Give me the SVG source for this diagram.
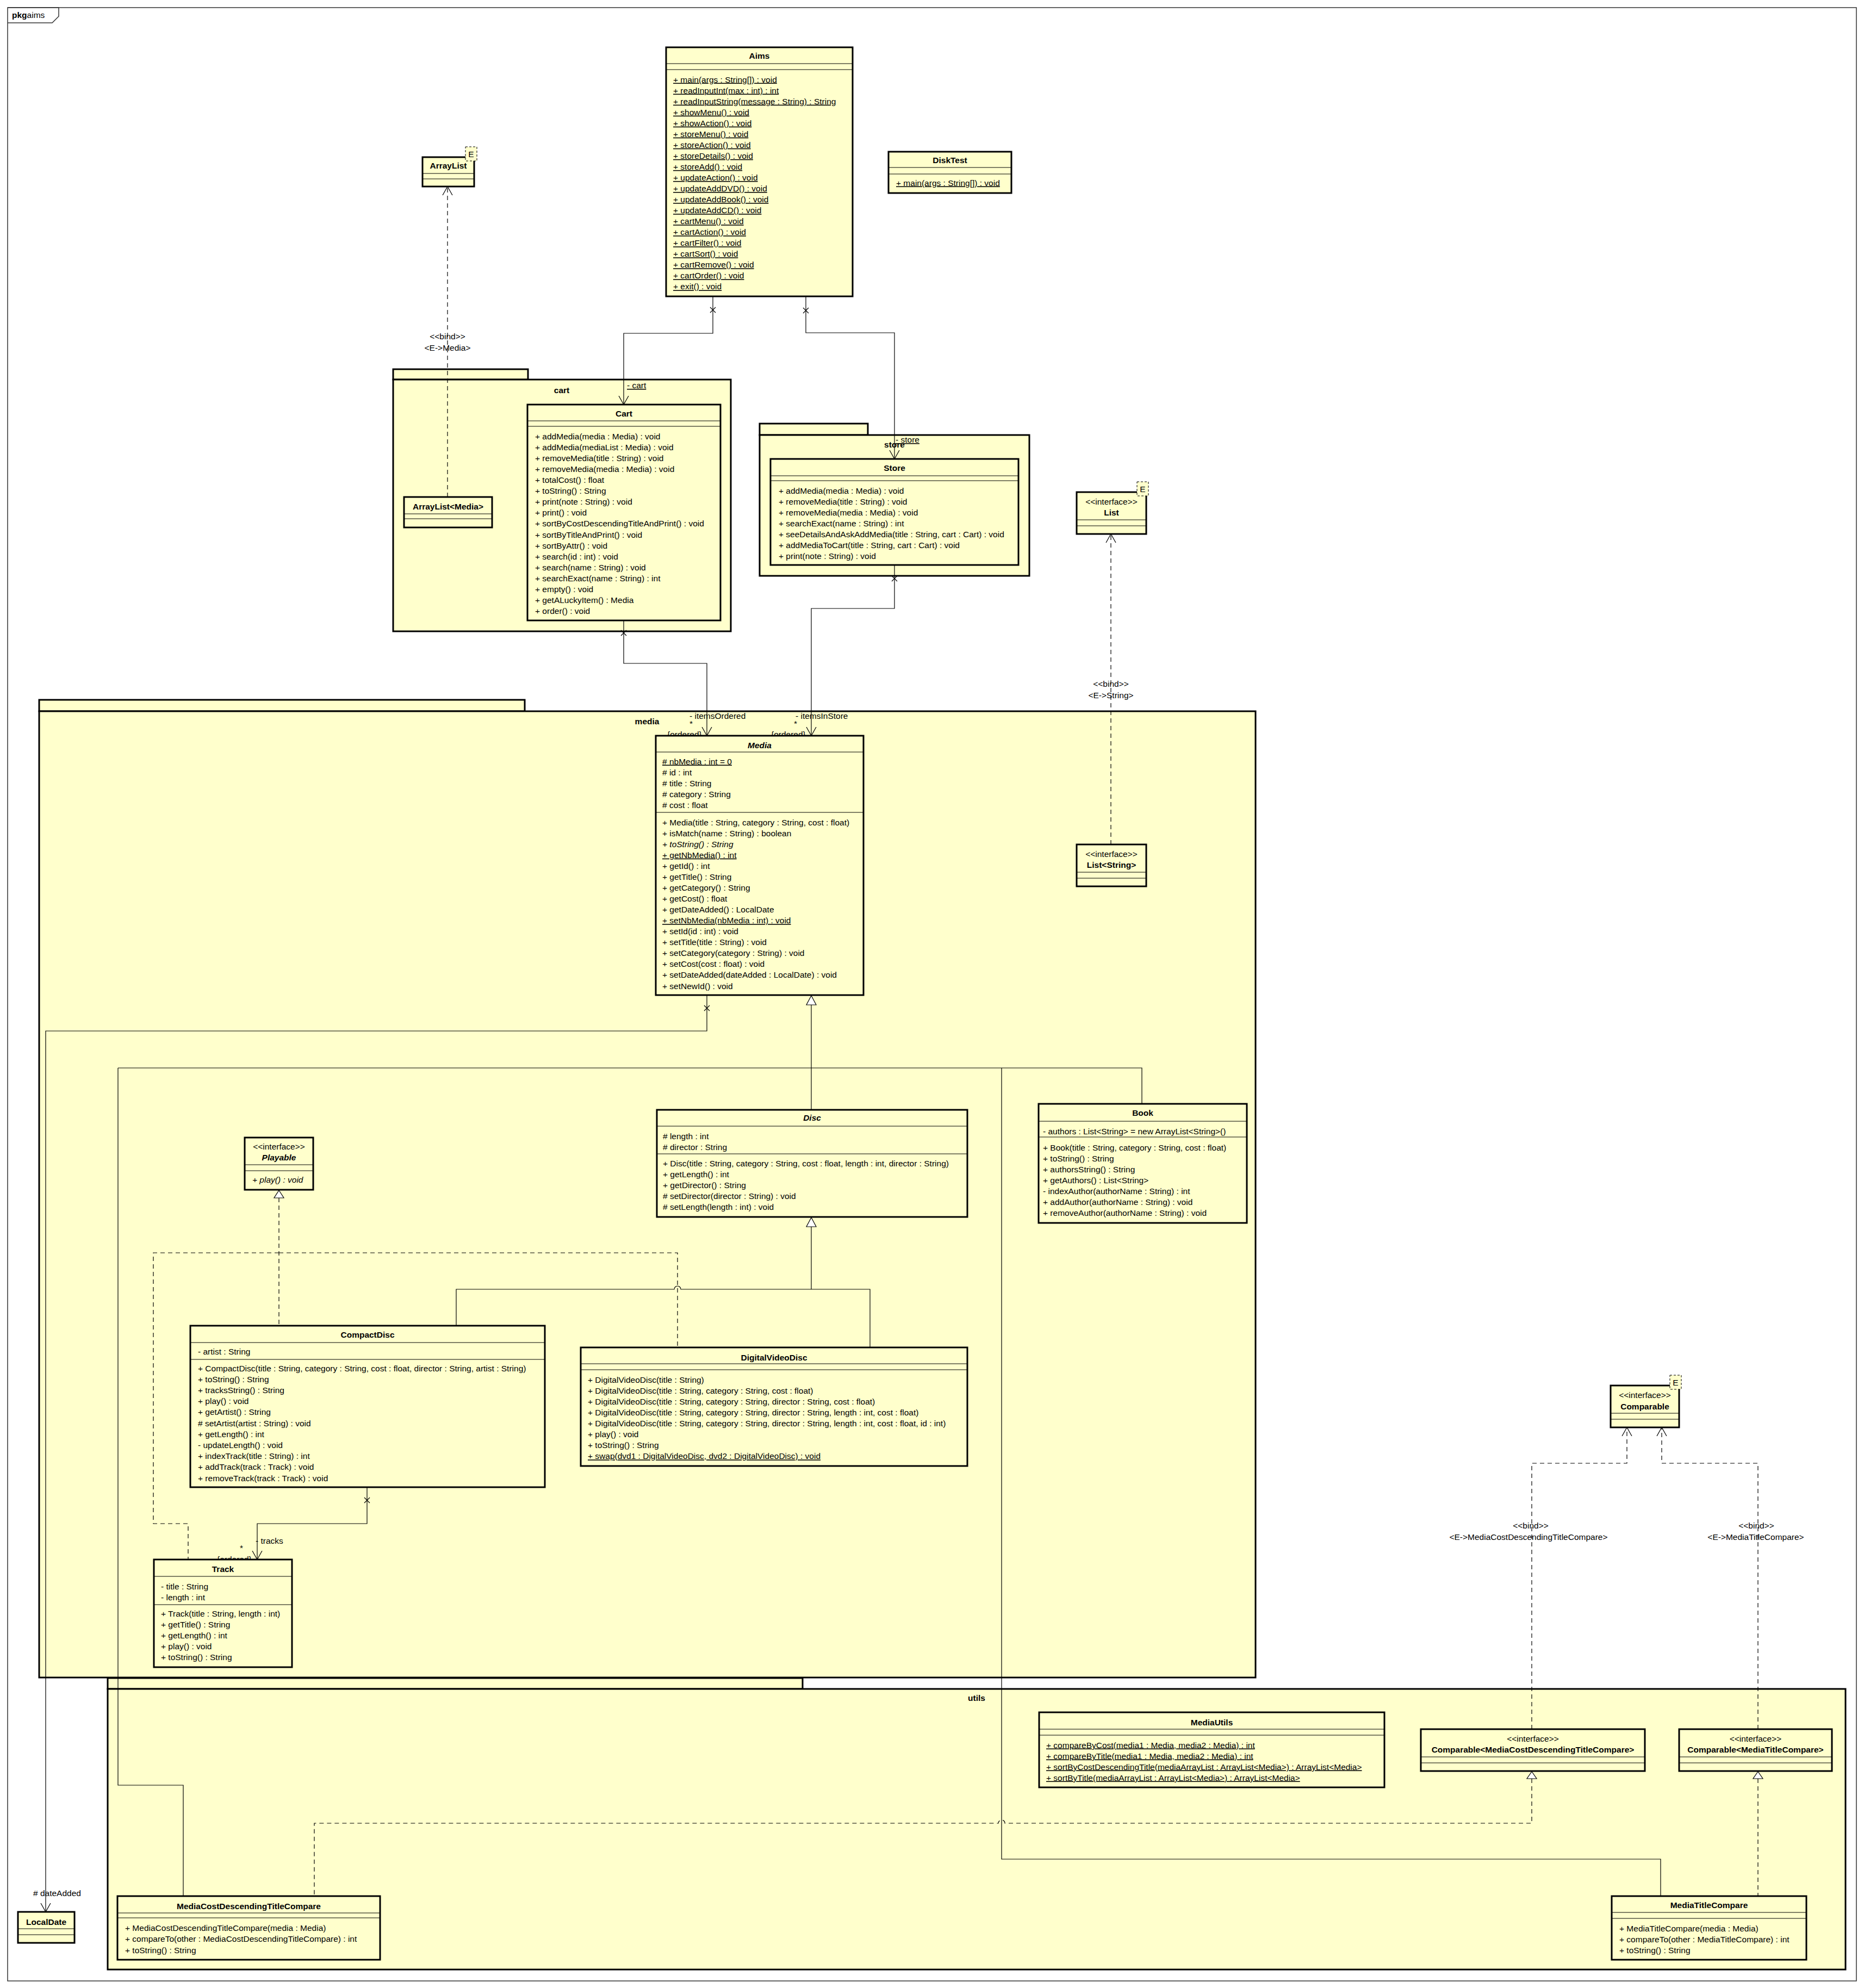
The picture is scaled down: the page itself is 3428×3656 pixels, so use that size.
<svg xmlns="http://www.w3.org/2000/svg" width="3428" height="3656" viewBox="0 0 3428 3656">
<style>
text{font-family:"Liberation Sans",Arial,sans-serif;font-size:15.5px;fill:#000}
.b{font-weight:bold}
.i{font-style:italic}
.u{text-decoration:underline}
.m{text-anchor:middle}
.box{fill:#FFFFCC;stroke:#000;stroke-width:3}
.pkg{fill:#FFFFCC;stroke:#000;stroke-width:3}
.sep{fill:none;stroke:#000;stroke-width:1}
.ln{fill:none;stroke:#000;stroke-width:1.2}
.dash{fill:none;stroke:#000;stroke-width:1.2;stroke-dasharray:8 6}
.tpl{fill:#FFFFCC;stroke:#000;stroke-width:1;stroke-dasharray:4 3}
.tri{fill:#fff;stroke:#000;stroke-width:1.2}
</style>
<defs>
<marker id="open" viewBox="0 0 16 20" refX="16" refY="10" markerWidth="16" markerHeight="20" orient="auto" markerUnits="userSpaceOnUse">
<path d="M0,1 L16,10 L0,19" fill="none" stroke="#000" stroke-width="1.2" stroke-dasharray="none"/>
</marker>
</defs>
<rect width="3428" height="3656" fill="#fff"/>

<!-- frame -->
<g id="frame">
<rect x="14" y="14" width="3400" height="3629" fill="none" stroke="#333" stroke-width="1.5"/>
<path d="M14,14 H108 V30 L96,42 H14" fill="none" stroke="#333" stroke-width="1.5"/>
<text x="22" y="33"><tspan class="b">pkg</tspan>aims</text>
</g>

<!-- packages -->
<g id="pkg-media">
<rect class="pkg" x="72" y="1287" width="893" height="21"/>
<rect class="pkg" x="72" y="1308" width="2237" height="1777"/>
<text class="b m" x="1190" y="1331.5">media</text>
</g>
<g id="pkg-utils">
<rect class="pkg" x="198" y="3086" width="1278" height="20"/>
<rect class="pkg" x="198" y="3106" width="3196" height="516"/>
<text class="b m" x="1796" y="3127.5">utils</text>
</g>
<g id="pkg-cart">
<rect class="pkg" x="723" y="679" width="248" height="19"/>
<rect class="pkg" x="723" y="698" width="621" height="463"/>
<text class="b m" x="1033" y="722.5">cart</text>
</g>
<g id="pkg-store">
<rect class="pkg" x="1397" y="779" width="199" height="21"/>
<rect class="pkg" x="1397" y="800" width="496" height="259"/>
<text class="b m" x="1645" y="822.5">store</text>
</g>

<!-- connectors -->
<g id="connectors">
<!-- Aims -> Cart -->
<path class="ln" d="M1311,545 V613 H1147 V744" marker-end="url(#open)"/>
<path class="ln" d="M1306,565 L1316,575 M1316,565 L1306,575"/>
<text class="u" x="1153" y="714">- cart</text>
<!-- Aims -> Store -->
<path class="ln" d="M1482,545 V612 H1645 V844" marker-end="url(#open)"/>
<path class="ln" d="M1477,566 L1487,576 M1487,566 L1477,576"/>
<text class="u" x="1647" y="814">- store</text>
<!-- Cart -> Media -->
<path class="ln" d="M1147,1141 V1220 H1300 V1353" marker-end="url(#open)"/>
<path class="ln" d="M1142,1159 L1152,1169 M1152,1159 L1142,1169"/>
<text x="1268" y="1322">- itemsOrdered</text>
<text x="1268" y="1336">*</text>
<text x="1227" y="1356">{ordered}</text>
<!-- Store -> Media -->
<path class="ln" d="M1645,1039 V1119 H1492 V1353" marker-end="url(#open)"/>
<path class="ln" d="M1640,1059 L1650,1069 M1650,1059 L1640,1069"/>
<text x="1463" y="1322">- itemsInStore</text>
<text x="1460" y="1336">*</text>
<text x="1418" y="1356">{ordered}</text>
<!-- ArrayList<Media> binds ArrayList -->
<path class="dash" d="M823,914 V343" marker-end="url(#open)"/>
<text class="m" x="823" y="624">&lt;&lt;bind&gt;&gt;</text>
<text class="m" x="823" y="645">&lt;E-&gt;Media&gt;</text>
<!-- List<String> binds List -->
<path class="dash" d="M2043,1553 V982" marker-end="url(#open)"/>
<text class="m" x="2043" y="1263">&lt;&lt;bind&gt;&gt;</text>
<text class="m" x="2043" y="1284">&lt;E-&gt;String&gt;</text>
<!-- Media -> LocalDate -->
<path class="ln" d="M1300,1830 V1896 H84 V3516" marker-end="url(#open)"/>
<path class="ln" d="M1295,1849 L1305,1859 M1305,1849 L1295,1859"/>
<text x="61" y="3487"># dateAdded</text>
<!-- generalization to Media -->
<polygon class="tri" points="1492,1831 1483,1848 1501,1848"/>
<path class="ln" d="M1492,1848 V2041"/>
<path class="ln" d="M217,1964 H2100 V2030"/>
<path class="ln" d="M217,1964 V3283 H337 V3487"/>
<path class="ln" d="M1842,1964 V3419 H3054 V3487"/>
<!-- generalization to Disc -->
<polygon class="tri" points="1492,2239 1483,2256 1501,2256"/>
<path class="ln" d="M1492,2256 V2371"/>
<path class="ln" d="M839,2438 V2371 H1240 A6,6 0 0 1 1252,2371 H1600 V2478"/>
<!-- realization of Playable -->
<polygon class="tri" points="513,2189 504,2203 522,2203"/>
<path class="dash" d="M513,2203 V2438"/>
<path class="dash" d="M513,2304 H1246 V2478"/>
<path class="dash" d="M513,2304 H282 V2802 H346 V2868"/>
<!-- CompactDisc -> Track -->
<path class="ln" d="M675,2735 V2802 H473 V2868" marker-end="url(#open)"/>
<path class="ln" d="M670,2754 L680,2764 M680,2754 L670,2764"/>
<text x="470" y="2839">- tracks</text>
<text x="441" y="2852">*</text>
<text x="399" y="2873">{ordered}</text>
<!-- bindings of Comparable -->
<path class="dash" d="M2817,3180 V2691 H2992 V2625" marker-end="url(#open)"/>
<path class="dash" d="M3233,3180 V2691 H3056 V2625" marker-end="url(#open)"/>
<text class="m" x="2815" y="2811">&lt;&lt;bind&gt;&gt;</text>
<text class="m" x="2811" y="2832">&lt;E-&gt;MediaCostDescendingTitleCompare&gt;</text>
<text class="m" x="3230" y="2811">&lt;&lt;bind&gt;&gt;</text>
<text class="m" x="3229" y="2832">&lt;E-&gt;MediaTitleCompare&gt;</text>
<!-- realizations in utils -->
<polygon class="tri" points="2817,3258 2808,3271 2826,3271"/>
<path class="dash" d="M2817,3271 V3353 H1848 A6,6 0 0 0 1836,3353 H578 V3487"/>
<polygon class="tri" points="3233,3258 3224,3271 3242,3271"/>
<path class="dash" d="M3233,3271 V3487"/>
</g>

<!-- classes -->
<g id="ArrayList">
<rect class="box" x="777" y="289" width="95" height="54"/>
<text class="b m" x="824.5" y="309.5">ArrayList</text>
<path class="sep" d="M777,319H872M777,329H872"/>
<rect class="tpl" x="856" y="270" width="21" height="26"/>
<text class="m" x="866.5" y="289">E</text>
</g>

<g id="Aims">
<rect class="box" x="1225" y="87" width="343" height="458"/>
<text class="b m" x="1396.5" y="108">Aims</text>
<path class="sep" d="M1225,117H1568M1225,128H1568"/>
<text class="u" x="1238" y="151.5"><tspan x="1238">+ main(args : String[]) : void</tspan><tspan x="1238" dy="20.05">+ readInputInt(max : int) : int</tspan><tspan x="1238" dy="20.05">+ readInputString(message : String) : String</tspan><tspan x="1238" dy="20.05">+ showMenu() : void</tspan><tspan x="1238" dy="20.05">+ showAction() : void</tspan><tspan x="1238" dy="20.05">+ storeMenu() : void</tspan><tspan x="1238" dy="20.05">+ storeAction() : void</tspan><tspan x="1238" dy="20.05">+ storeDetails() : void</tspan><tspan x="1238" dy="20.05">+ storeAdd() : void</tspan><tspan x="1238" dy="20.05">+ updateAction() : void</tspan><tspan x="1238" dy="20.05">+ updateAddDVD() : void</tspan><tspan x="1238" dy="20.05">+ updateAddBook() : void</tspan><tspan x="1238" dy="20.05">+ updateAddCD() : void</tspan><tspan x="1238" dy="20.05">+ cartMenu() : void</tspan><tspan x="1238" dy="20.05">+ cartAction() : void</tspan><tspan x="1238" dy="20.05">+ cartFilter() : void</tspan><tspan x="1238" dy="20.05">+ cartSort() : void</tspan><tspan x="1238" dy="20.05">+ cartRemove() : void</tspan><tspan x="1238" dy="20.05">+ cartOrder() : void</tspan><tspan x="1238" dy="20.05">+ exit() : void</tspan></text>
</g>

<g id="DiskTest">
<rect class="box" x="1634" y="279" width="226" height="76"/>
<text class="b m" x="1747" y="300">DiskTest</text>
<path class="sep" d="M1634,308H1860M1634,320H1860"/>
<text class="u" x="1648" y="341.5">+ main(args : String[]) : void</text>
</g>

<g id="Cart">
<rect class="box" x="970" y="744" width="355" height="397"/>
<text class="b m" x="1147.5" y="765.5">Cart</text>
<path class="sep" d="M970,774H1325M970,784H1325"/>
<text x="984" y="807.5"><tspan x="984">+ addMedia(media : Media) : void</tspan><tspan x="984" dy="20.12">+ addMedia(mediaList : Media) : void</tspan><tspan x="984" dy="20.12">+ removeMedia(title : String) : void</tspan><tspan x="984" dy="20.12">+ removeMedia(media : Media) : void</tspan><tspan x="984" dy="20.12">+ totalCost() : float</tspan><tspan x="984" dy="20.12">+ toString() : String</tspan><tspan x="984" dy="20.12">+ print(note : String) : void</tspan><tspan x="984" dy="20.12">+ print() : void</tspan><tspan x="984" dy="20.12">+ sortByCostDescendingTitleAndPrint() : void</tspan><tspan x="984" dy="20.12">+ sortByTitleAndPrint() : void</tspan><tspan x="984" dy="20.12">+ sortByAttr() : void</tspan><tspan x="984" dy="20.12">+ search(id : int) : void</tspan><tspan x="984" dy="20.12">+ search(name : String) : void</tspan><tspan x="984" dy="20.12">+ searchExact(name : String) : int</tspan><tspan x="984" dy="20.12">+ empty() : void</tspan><tspan x="984" dy="20.12">+ getALuckyItem() : Media</tspan><tspan x="984" dy="20.12">+ order() : void</tspan></text>
</g>

<g id="ArrayList-Media">
<rect class="box" x="743" y="914" width="162" height="56"/>
<text class="b m" x="824" y="936.5">ArrayList&lt;Media&gt;</text>
<path class="sep" d="M743,945H905M743,954H905"/>
</g>

<g id="Store">
<rect class="box" x="1417" y="844" width="456" height="195"/>
<text class="b m" x="1645" y="865.5">Store</text>
<path class="sep" d="M1417,875H1873M1417,884H1873"/>
<text x="1432" y="907.5"><tspan x="1432">+ addMedia(media : Media) : void</tspan><tspan x="1432" dy="20">+ removeMedia(title : String) : void</tspan><tspan x="1432" dy="20">+ removeMedia(media : Media) : void</tspan><tspan x="1432" dy="20">+ searchExact(name : String) : int</tspan><tspan x="1432" dy="20">+ seeDetailsAndAskAddMedia(title : String, cart : Cart) : void</tspan><tspan x="1432" dy="20">+ addMediaToCart(title : String, cart : Cart) : void</tspan><tspan x="1432" dy="20">+ print(note : String) : void</tspan></text>
</g>

<g id="List">
<rect class="box" x="1980" y="905" width="128" height="77"/>
<text class="m" x="2044" y="928">&lt;&lt;interface&gt;&gt;</text>
<text class="b m" x="2044" y="947.5">List</text>
<path class="sep" d="M1980,956H2108M1980,967H2108"/>
<rect class="tpl" x="2091" y="886" width="21" height="26"/>
<text class="m" x="2101.5" y="905">E</text>
</g>

<g id="List-String">
<rect class="box" x="1980" y="1553" width="128" height="77"/>
<text class="m" x="2044" y="1576">&lt;&lt;interface&gt;&gt;</text>
<text class="b m" x="2044" y="1595.5">List&lt;String&gt;</text>
<path class="sep" d="M1980,1604H2108M1980,1615H2108"/>
</g>

<g id="Media">
<rect class="box" x="1206" y="1353" width="382" height="477"/>
<text class="b i m" x="1397" y="1375.5">Media</text>
<path class="sep" d="M1206,1383H1588M1206,1494H1588"/>
<text x="1218" y="1405.5"><tspan x="1218" class="u"># nbMedia : int = 0</tspan><tspan x="1218" dy="20.1"># id : int</tspan><tspan x="1218" dy="20.1"># title : String</tspan><tspan x="1218" dy="20.1"># category : String</tspan><tspan x="1218" dy="20.1"># cost : float</tspan></text>
<text x="1218" y="1517.5"><tspan x="1218">+ Media(title : String, category : String, cost : float)</tspan><tspan x="1218" dy="20.07">+ isMatch(name : String) : boolean</tspan><tspan x="1218" dy="20.07" class="i">+ toString() : String</tspan><tspan x="1218" dy="20.07" class="u">+ getNbMedia() : int</tspan><tspan x="1218" dy="20.07">+ getId() : int</tspan><tspan x="1218" dy="20.07">+ getTitle() : String</tspan><tspan x="1218" dy="20.07">+ getCategory() : String</tspan><tspan x="1218" dy="20.07">+ getCost() : float</tspan><tspan x="1218" dy="20.07">+ getDateAdded() : LocalDate</tspan><tspan x="1218" dy="20.07" class="u">+ setNbMedia(nbMedia : int) : void</tspan><tspan x="1218" dy="20.07">+ setId(id : int) : void</tspan><tspan x="1218" dy="20.07">+ setTitle(title : String) : void</tspan><tspan x="1218" dy="20.07">+ setCategory(category : String) : void</tspan><tspan x="1218" dy="20.07">+ setCost(cost : float) : void</tspan><tspan x="1218" dy="20.07">+ setDateAdded(dateAdded : LocalDate) : void</tspan><tspan x="1218" dy="20.07">+ setNewId() : void</tspan></text>
</g>

<g id="Disc">
<rect class="box" x="1208" y="2041" width="571" height="197"/>
<text class="b i m" x="1493.5" y="2061">Disc</text>
<path class="sep" d="M1208,2071H1779M1208,2122H1779"/>
<text x="1219" y="2094.5"><tspan x="1219"># length : int</tspan><tspan x="1219" dy="20"># director : String</tspan></text>
<text x="1219" y="2144.5"><tspan x="1219">+ Disc(title : String, category : String, cost : float, length : int, director : String)</tspan><tspan x="1219" dy="20">+ getLength() : int</tspan><tspan x="1219" dy="20">+ getDirector() : String</tspan><tspan x="1219" dy="20"># setDirector(director : String) : void</tspan><tspan x="1219" dy="20"># setLength(length : int) : void</tspan></text>
</g>

<g id="Book">
<rect class="box" x="1910" y="2030" width="383" height="219"/>
<text class="b m" x="2101.5" y="2051.5">Book</text>
<path class="sep" d="M1910,2062H2293M1910,2091H2293"/>
<text x="1918" y="2085.5">- authors : List&lt;String&gt; = new ArrayList&lt;String&gt;()</text>
<text x="1918" y="2115.5"><tspan x="1918">+ Book(title : String, category : String, cost : float)</tspan><tspan x="1918" dy="20">+ toString() : String</tspan><tspan x="1918" dy="20">+ authorsString() : String</tspan><tspan x="1918" dy="20">+ getAuthors() : List&lt;String&gt;</tspan><tspan x="1918" dy="20">- indexAuthor(authorName : String) : int</tspan><tspan x="1918" dy="20">+ addAuthor(authorName : String) : void</tspan><tspan x="1918" dy="20">+ removeAuthor(authorName : String) : void</tspan></text>
</g>

<g id="Playable">
<rect class="box" x="450" y="2092" width="126" height="96"/>
<text class="m" x="513" y="2114">&lt;&lt;interface&gt;&gt;</text>
<text class="b i m" x="513" y="2133.5">Playable</text>
<path class="sep" d="M450,2142H576M450,2153H576"/>
<text class="i" x="464" y="2174.5">+ play() : void</text>
</g>

<g id="CompactDisc">
<rect class="box" x="350" y="2438" width="652" height="297"/>
<text class="b m" x="676" y="2459.5">CompactDisc</text>
<path class="sep" d="M350,2469H1002M350,2500H1002"/>
<text x="364" y="2490.5">- artist : String</text>
<text x="364" y="2521.5"><tspan x="364">+ CompactDisc(title : String, category : String, cost : float, director : String, artist : String)</tspan><tspan x="364" dy="20.2">+ toString() : String</tspan><tspan x="364" dy="20.2">+ tracksString() : String</tspan><tspan x="364" dy="20.2">+ play() : void</tspan><tspan x="364" dy="20.2">+ getArtist() : String</tspan><tspan x="364" dy="20.2"># setArtist(artist : String) : void</tspan><tspan x="364" dy="20.2">+ getLength() : int</tspan><tspan x="364" dy="20.2">- updateLength() : void</tspan><tspan x="364" dy="20.2">+ indexTrack(title : String) : int</tspan><tspan x="364" dy="20.2">+ addTrack(track : Track) : void</tspan><tspan x="364" dy="20.2">+ removeTrack(track : Track) : void</tspan></text>
</g>

<g id="DigitalVideoDisc">
<rect class="box" x="1068" y="2478" width="711" height="218"/>
<text class="b m" x="1423.5" y="2501.5">DigitalVideoDisc</text>
<path class="sep" d="M1068,2508H1779M1068,2519H1779"/>
<text x="1081" y="2542.5"><tspan x="1081">+ DigitalVideoDisc(title : String)</tspan><tspan x="1081" dy="20.1">+ DigitalVideoDisc(title : String, category : String, cost : float)</tspan><tspan x="1081" dy="20.1">+ DigitalVideoDisc(title : String, category : String, director : String, cost : float)</tspan><tspan x="1081" dy="20.1">+ DigitalVideoDisc(title : String, category : String, director : String, length : int, cost : float)</tspan><tspan x="1081" dy="20.1">+ DigitalVideoDisc(title : String, category : String, director : String, length : int, cost : float, id : int)</tspan><tspan x="1081" dy="20.1">+ play() : void</tspan><tspan x="1081" dy="20.1">+ toString() : String</tspan><tspan x="1081" dy="20.1" class="u">+ swap(dvd1 : DigitalVideoDisc, dvd2 : DigitalVideoDisc) : void</tspan></text>
</g>

<g id="Track">
<rect class="box" x="283" y="2868" width="254" height="198"/>
<text class="b m" x="410" y="2890.5">Track</text>
<path class="sep" d="M283,2899H537M283,2951H537"/>
<text x="296" y="2922.5"><tspan x="296">- title : String</tspan><tspan x="296" dy="20">- length : int</tspan></text>
<text x="296" y="2972.5"><tspan x="296">+ Track(title : String, length : int)</tspan><tspan x="296" dy="20">+ getTitle() : String</tspan><tspan x="296" dy="20">+ getLength() : int</tspan><tspan x="296" dy="20">+ play() : void</tspan><tspan x="296" dy="20">+ toString() : String</tspan></text>
</g>

<g id="Comparable">
<rect class="box" x="2962" y="2548" width="126" height="77"/>
<text class="m" x="3025" y="2571">&lt;&lt;interface&gt;&gt;</text>
<text class="b m" x="3025" y="2591.5">Comparable</text>
<path class="sep" d="M2962,2599H3088M2962,2610H3088"/>
<rect class="tpl" x="3071" y="2529" width="21" height="26"/>
<text class="m" x="3081.5" y="2548">E</text>
</g>

<g id="MediaUtils">
<rect class="box" x="1911" y="3149" width="635" height="138"/>
<text class="b m" x="2228.5" y="3172.5">MediaUtils</text>
<path class="sep" d="M1911,3180H2546M1911,3191H2546"/>
<text class="u" x="1924" y="3214.5"><tspan x="1924">+ compareByCost(media1 : Media, media2 : Media) : int</tspan><tspan x="1924" dy="20">+ compareByTitle(media1 : Media, media2 : Media) : int</tspan><tspan x="1924" dy="20">+ sortByCostDescendingTitle(mediaArrayList : ArrayList&lt;Media&gt;) : ArrayList&lt;Media&gt;</tspan><tspan x="1924" dy="20">+ sortByTitle(mediaArrayList : ArrayList&lt;Media&gt;) : ArrayList&lt;Media&gt;</tspan></text>
</g>

<g id="Comparable-MCDTC">
<rect class="box" x="2613" y="3180" width="412" height="77"/>
<text class="m" x="2819" y="3203">&lt;&lt;interface&gt;&gt;</text>
<text class="b m" x="2819" y="3222.5">Comparable&lt;MediaCostDescendingTitleCompare&gt;</text>
<path class="sep" d="M2613,3231H3025M2613,3242H3025"/>
</g>

<g id="Comparable-MTC">
<rect class="box" x="3088" y="3180" width="281" height="77"/>
<text class="m" x="3228.5" y="3203">&lt;&lt;interface&gt;&gt;</text>
<text class="b m" x="3228.5" y="3222.5">Comparable&lt;MediaTitleCompare&gt;</text>
<path class="sep" d="M3088,3231H3369M3088,3242H3369"/>
</g>

<g id="MediaCostDescendingTitleCompare">
<rect class="box" x="216" y="3487" width="483" height="117"/>
<text class="b m" x="457.5" y="3510.5">MediaCostDescendingTitleCompare</text>
<path class="sep" d="M216,3518H699M216,3527H699"/>
<text x="230" y="3550.5"><tspan x="230">+ MediaCostDescendingTitleCompare(media : Media)</tspan><tspan x="230" dy="20.5">+ compareTo(other : MediaCostDescendingTitleCompare) : int</tspan><tspan x="230" dy="20.5">+ toString() : String</tspan></text>
</g>

<g id="MediaTitleCompare">
<rect class="box" x="2964" y="3487" width="358" height="117"/>
<text class="b m" x="3143" y="3508.5">MediaTitleCompare</text>
<path class="sep" d="M2964,3517H3322M2964,3528H3322"/>
<text x="2978" y="3551.5"><tspan x="2978">+ MediaTitleCompare(media : Media)</tspan><tspan x="2978" dy="20">+ compareTo(other : MediaTitleCompare) : int</tspan><tspan x="2978" dy="20">+ toString() : String</tspan></text>
</g>

<g id="LocalDate">
<rect class="box" x="33" y="3516" width="104" height="57"/>
<text class="b m" x="85" y="3539.5">LocalDate</text>
<path class="sep" d="M33,3547H137M33,3558H137"/>
</g>
</svg>
